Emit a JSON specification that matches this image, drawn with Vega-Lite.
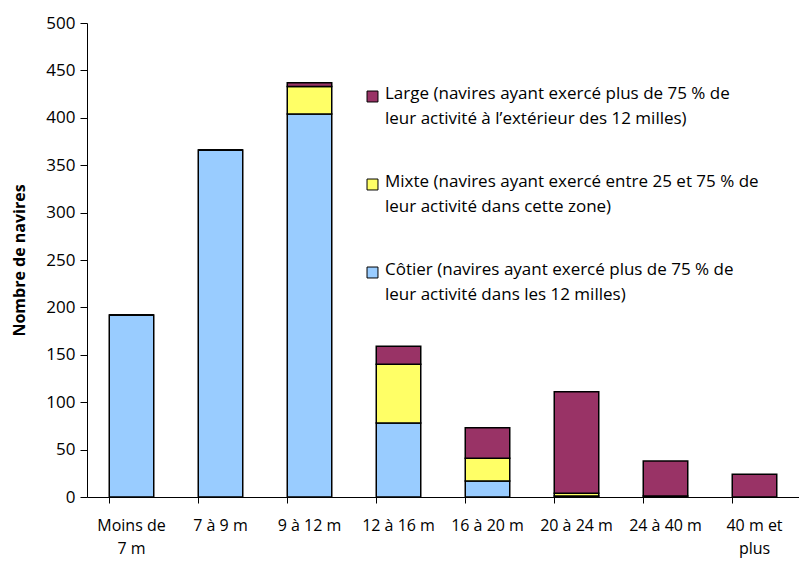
{
  "$schema": "https://vega.github.io/schema/vega-lite/v6.json",
  "autosize": "none",
  "width": 712,
  "height": 474,
  "padding": {"left": 87, "top": 23, "right": 0, "bottom": 64},
  "background": "white",
  "config": {
    "view": {"stroke": null},
    "font": "Open Sans",
    "axis": {"grid": false, "domainColor": "#000000", "tickColor": "#000000", "labelColor": "#000000", "titleColor": "#000000"}
  },
  "data": {
    "values": [
      {"taille": "Moins de 7 m", "type": "Côtier", "ordre": 1, "navires": 192},
      {"taille": "Moins de 7 m", "type": "Mixte", "ordre": 2, "navires": 0},
      {"taille": "Moins de 7 m", "type": "Large", "ordre": 3, "navires": 0},
      {"taille": "7 à 9 m", "type": "Côtier", "ordre": 1, "navires": 366},
      {"taille": "7 à 9 m", "type": "Mixte", "ordre": 2, "navires": 0},
      {"taille": "7 à 9 m", "type": "Large", "ordre": 3, "navires": 0},
      {"taille": "9 à 12 m", "type": "Côtier", "ordre": 1, "navires": 404},
      {"taille": "9 à 12 m", "type": "Mixte", "ordre": 2, "navires": 29},
      {"taille": "9 à 12 m", "type": "Large", "ordre": 3, "navires": 4},
      {"taille": "12 à 16 m", "type": "Côtier", "ordre": 1, "navires": 78},
      {"taille": "12 à 16 m", "type": "Mixte", "ordre": 2, "navires": 62},
      {"taille": "12 à 16 m", "type": "Large", "ordre": 3, "navires": 19},
      {"taille": "16 à 20 m", "type": "Côtier", "ordre": 1, "navires": 17},
      {"taille": "16 à 20 m", "type": "Mixte", "ordre": 2, "navires": 24},
      {"taille": "16 à 20 m", "type": "Large", "ordre": 3, "navires": 32},
      {"taille": "20 à 24 m", "type": "Côtier", "ordre": 1, "navires": 1},
      {"taille": "20 à 24 m", "type": "Mixte", "ordre": 2, "navires": 3},
      {"taille": "20 à 24 m", "type": "Large", "ordre": 3, "navires": 107},
      {"taille": "24 à 40 m", "type": "Côtier", "ordre": 1, "navires": 0},
      {"taille": "24 à 40 m", "type": "Mixte", "ordre": 2, "navires": 1},
      {"taille": "24 à 40 m", "type": "Large", "ordre": 3, "navires": 37},
      {"taille": "40 m et plus", "type": "Côtier", "ordre": 1, "navires": 0},
      {"taille": "40 m et plus", "type": "Mixte", "ordre": 2, "navires": 0},
      {"taille": "40 m et plus", "type": "Large", "ordre": 3, "navires": 24}
    ]
  },
  "mark": {"type": "bar", "stroke": "#000000", "strokeWidth": 1.5},
  "encoding": {
    "x": {
      "field": "taille", "type": "nominal", "sort": null,
      "scale": {"paddingInner": 0.5, "paddingOuter": 0.25},
      "axis": {
        "title": null, "labelAngle": 0, "labelFontSize": 16, "labelPadding": 14,
        "bandPosition": 0, "tickSize": 6, "labelLimit": 200,
        "labelLineHeight": 23, "labelBaseline": "top",
        "labelExpr": "datum.value == 'Moins de 7 m' ? ['Moins de', '7 m'] : datum.value == '40 m et plus' ? ['40 m et', 'plus'] : datum.value"
      }
    },
    "y": {
      "field": "navires", "type": "quantitative", "stack": "zero",
      "scale": {"domain": [0, 500]},
      "axis": {
        "title": "Nombre de navires", "titleFontSize": 16, "titleFontWeight": "bold", "titlePadding": 18,
        "labelFontSize": 17, "labelOverlap": false, "values": [0, 50, 100, 150, 200, 250, 300, 350, 400, 450, 500],
        "tickSize": 7, "labelPadding": 5
      }
    },
    "order": {"field": "ordre", "type": "quantitative"},
    "color": {
      "field": "type", "type": "nominal",
      "scale": {"domain": ["Large", "Mixte", "Côtier"], "range": ["#993366", "#FFFF66", "#99CCFF"]},
      "legend": {
        "title": null, "orient": "none", "legendX": 277, "legendY": 65,
        "symbolType": "square", "symbolSize": 120, "symbolStrokeColor": "#000000", "symbolStrokeWidth": 1,
        "labelFontSize": 17, "labelLimit": 500, "labelColor": "#000000",
        "rowPadding": 45, "labelOffset": 4, "labelBaseline": "top",
        "labelExpr": "datum.value == 'Large' ? ['Large (navires ayant exercé plus de 75 % de', 'leur activité à l’extérieur des 12 milles)'] : datum.value == 'Mixte' ? ['Mixte (navires ayant exercé entre 25 et 75 % de', 'leur activité dans cette zone)'] : ['Côtier  (navires ayant exercé plus de 75 % de', 'leur activité dans les 12 milles)']",
        "encode": {"labels": {"update": {"lineHeight": {"value": 25}, "dy": {"value": -11}}}}
      }
    }
  }
}
